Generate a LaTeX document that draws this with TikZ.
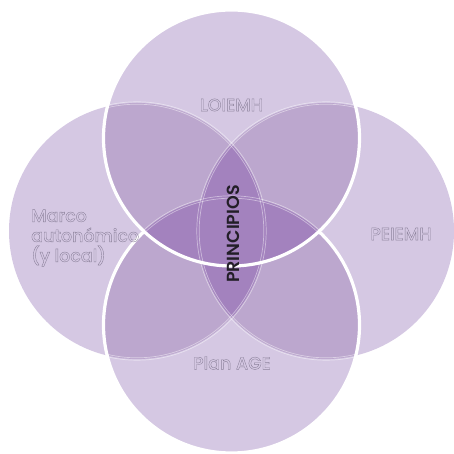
\documentclass[tikz,border=0pt]{standalone}
\usepackage{fontspec}
\setmainfont{Poppins}
\newfontfamily\lblfont{Poppins Medium}
\newfontfamily\prifont{Poppins SemiBold}
\definecolor{light}{RGB}{213,200,227}
\definecolor{mid}{RGB}{188,167,206}
\definecolor{dark}{RGB}{163,130,190}
\definecolor{outl}{RGB}{140,130,155}
\definecolor{ink}{RGB}{35,30,40}
\newcommand{\outltext}[1]{\special{pdf:literal direct 1 Tr 0.4 w}#1\special{pdf:literal direct 0 Tr}}
\tikzset{
  lbl/.style={inner sep=0pt, font=\lblfont\fontsize{17.5}{20}\selectfont, text=outl},
  faint/.style={draw=white, draw opacity=0.45, line width=0.7pt},
  rim/.style={draw=white, line width=3.2pt}
}
\begin{document}
\begin{tikzpicture}[x=1pt,y=1pt]
\useasboundingbox (0,0) rectangle (453,454);
\def\R{128}
\coordinate (T) at (231.5,316);
\coordinate (B) at (231.5,129);
\coordinate (L) at (137,223);
\coordinate (Rt) at (326,223);
% base circles
\foreach \c in {T,B,L,Rt} \fill[light] (\c) circle (\R);
% overlaps
\begin{scope}
  \clip (T) circle (\R);
  \fill[mid] (L) circle (\R);
  \fill[mid] (Rt) circle (\R);
  \fill[dark] (B) circle (\R);
\end{scope}
\begin{scope}
  \clip (B) circle (\R);
  \fill[mid] (L) circle (\R);
  \fill[mid] (Rt) circle (\R);
  \fill[dark] (T) circle (\R);
\end{scope}
\begin{scope}
  \clip (L) circle (\R);
  \fill[dark] (Rt) circle (\R);
\end{scope}
% faint edges seen through the upper circles
\begin{scope}
  \clip (T) circle (\R);
  \foreach \c in {L,Rt,B} {
    \draw[faint] (\c) circle (\R-1.2);
    \draw[faint] (\c) circle (\R+1.2);
  }
\end{scope}
\begin{scope}[even odd rule]
  \clip (B) circle (\R);
  \clip (0,0) rectangle (453,454) (T) circle (\R);
  \foreach \c in {L,Rt} {
    \draw[faint] (\c) circle (\R-1.2);
    \draw[faint] (\c) circle (\R+1.2);
  }
\end{scope}
% white rims
\begin{scope}[even odd rule]
  \clip (0,0) rectangle (453,454) (T) circle (\R);
  \draw[rim] (B) circle (\R);
\end{scope}
\draw[rim] (T) circle (\R);
% labels
\node[lbl] (loi) at (231.5,349) {\outltext{LOIEMH}};
\node[lbl, anchor=west, align=left] (marco) at (31,216) {\outltext{Marco}\\\outltext{autonómico}\\\outltext{(y local)}};
\node[lbl] (pei) at (401,220) {\outltext{PEIEMH}};
\node[lbl] (plan) at (232,91) {\outltext{Plan AGE}};
\node[inner sep=0pt, rotate=90, text=ink, font=\prifont\fontsize{17.5}{20}\selectfont] (pri) at (233,220) {PRINCIPIOS};
\end{tikzpicture}
\end{document}
